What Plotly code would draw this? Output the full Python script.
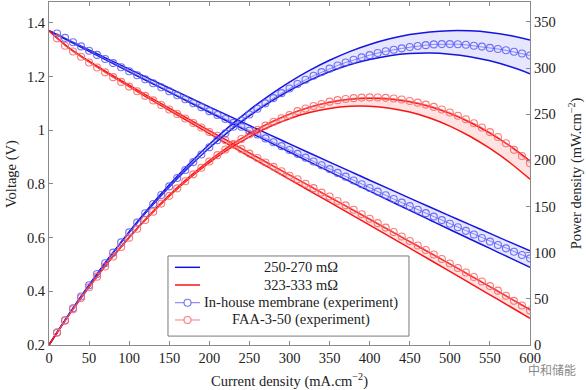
import plotly.graph_objects as go

# ---------------- data ----------------
J_MODEL = [0, 25, 50, 75, 100, 125, 150, 175, 200, 225, 250, 275, 300,
           325, 350, 375, 400, 425, 450, 475, 500, 525, 550, 575, 600]

V_250 = [1.371, 1.3350, 1.2992, 1.2635, 1.2279, 1.1926, 1.1574, 1.1223, 1.0874,
         1.0527, 1.0181, 0.9837, 0.9495, 0.9154, 0.8814, 0.8477, 0.8140, 0.7806,
         0.7473, 0.7141, 0.6811, 0.6483, 0.6157, 0.5831, 0.5508]
V_270 = [1.371, 1.3325, 1.2941, 1.2559, 1.2177, 1.1799, 1.1421, 1.1045, 1.0671,
         1.0298, 0.9927, 0.9557, 0.9190, 0.8823, 0.8458, 0.8096, 0.7733, 0.7374,
         0.7015, 0.6658, 0.6302, 0.5949, 0.5598, 0.5246, 0.4898]
V_323 = [1.371, 1.3071, 1.2576, 1.2119, 1.1678, 1.1248, 1.0824, 1.0406, 0.9989,
         0.9575, 0.9161, 0.8750, 0.8338, 0.7926, 0.7513, 0.7101, 0.6686, 0.6271,
         0.5855, 0.5438, 0.5019, 0.4597, 0.4174, 0.3750, 0.3323]
V_333 = [1.371, 1.3057, 1.2548, 1.2078, 1.1623, 1.1179, 1.0741, 1.0310, 0.9879,
         0.9451, 0.9023, 0.8599, 0.8173, 0.7747, 0.7320, 0.6895, 0.6466, 0.6037,
         0.5607, 0.5177, 0.4744, 0.4308, 0.3871, 0.3434, 0.2993]

J_EXP = [10, 20, 30, 40, 50, 60, 70, 80, 90, 100, 110, 120, 130, 140, 150,
         160, 170, 180, 190, 200, 210, 220, 230, 240, 250, 260, 270, 280, 290, 300,
         310, 320, 330, 340, 350, 360, 370, 380, 390, 400, 410, 420, 430, 440, 450,
         460, 470, 480, 490, 500, 510, 520, 530, 540, 550, 560, 570, 580, 590, 600]

V_INHOUSE = [1.3606, 1.3442, 1.3278, 1.3125, 1.2962, 1.2809, 1.2656, 1.2504, 1.2351, 1.2200,
             1.2050, 1.1900, 1.1751, 1.1602, 1.1454, 1.1305, 1.1157, 1.1009, 1.0862, 1.0714,
             1.0568, 1.0422, 1.0277, 1.0132, 0.9986, 0.9842, 0.9697, 0.9553, 0.9409, 0.9265,
             0.9122, 0.8980, 0.8838, 0.8696, 0.8554, 0.8413, 0.8272, 0.8131, 0.7991, 0.7850,
             0.7714, 0.7578, 0.7439, 0.7304, 0.7173, 0.7042, 0.6912, 0.6785, 0.6653, 0.6520,
             0.6390, 0.6254, 0.6118, 0.5987, 0.5852, 0.5726, 0.5601, 0.5477, 0.5352, 0.5228]

V_FAA = [1.3426, 1.3150, 1.2938, 1.2738, 1.2526, 1.2340, 1.2158, 1.1980, 1.1803, 1.1628,
         1.1455, 1.1284, 1.1113, 1.0944, 1.0774, 1.0606, 1.0439, 1.0272, 1.0106, 0.9939,
         0.9794, 0.9628, 0.9462, 0.9297, 0.9131, 0.8967, 0.8802, 0.8638, 0.8473, 0.8308,
         0.8173, 0.8009, 0.7844, 0.7679, 0.7533, 0.7368, 0.7203, 0.7037, 0.6872, 0.6706,
         0.6540, 0.6375, 0.6209, 0.6043, 0.5875, 0.5708, 0.5541, 0.5374, 0.5207, 0.5039,
         0.4871, 0.4702, 0.4534, 0.4365, 0.4194, 0.4025, 0.3835, 0.3645, 0.3470, 0.3283]

LEGEND_LABELS = ["250-270 mΩ", "323-333 mΩ",
                 "In-house membrane (experiment)", "FAA-3-50 (experiment)"]

# power density (mW/cm2) = current density (mA/cm2) x voltage (V)
def power(j, v):
    return [a * b for a, b in zip(j, v)]

P_250 = power(J_MODEL, V_250)
P_270 = power(J_MODEL, V_270)
P_323 = power(J_MODEL, V_323)
P_333 = power(J_MODEL, V_333)
P_INHOUSE = power(J_EXP, V_INHOUSE)
P_FAA = power(J_EXP, V_FAA)

# ---------------- styles ----------------
BLUE = "rgb(20,20,225)"
RED = "rgb(250,20,20)"
BLUE_FILL = "rgba(60,60,255,0.13)"
RED_FILL = "rgba(255,60,60,0.15)"
BLUE_MK = "rgba(90,90,245,0.85)"
RED_MK = "rgba(250,100,100,0.85)"
FONT = "Liberation Serif, Times New Roman, DejaVu Serif, serif"
TXT = "#222"

fig = go.Figure()

def band(x, lo, hi, color, fill, yaxis):
    fig.add_trace(go.Scatter(x=x, y=lo, mode="lines", yaxis=yaxis,
                             line=dict(color=color, width=1.5, shape="spline"),
                             showlegend=False, hoverinfo="skip"))
    fig.add_trace(go.Scatter(x=x, y=hi, mode="lines", yaxis=yaxis, fill="tonexty",
                             fillcolor=fill,
                             line=dict(color=color, width=1.5, shape="spline"),
                             showlegend=False, hoverinfo="skip"))

band(J_MODEL, V_270, V_250, BLUE, BLUE_FILL, "y")
band(J_MODEL, V_333, V_323, RED, RED_FILL, "y")
band(J_MODEL, P_270, P_250, BLUE, BLUE_FILL, "y2")
band(J_MODEL, P_333, P_323, RED, RED_FILL, "y2")

def exp(x, y, color, yaxis):
    fig.add_trace(go.Scatter(x=x, y=y, mode="lines+markers", yaxis=yaxis,
                             line=dict(color=color, width=0.8),
                             marker=dict(symbol="circle-open", size=7,
                                         color=color, line=dict(width=1.1)),
                             showlegend=False))

exp(J_EXP, V_INHOUSE, BLUE_MK, "y")
exp(J_EXP, V_FAA, RED_MK, "y")
exp(J_EXP, P_INHOUSE, BLUE_MK, "y2")
exp(J_EXP, P_FAA, RED_MK, "y2")

# ---------------- manual legend (centered text like the reference) ----------------
shapes = [dict(type="rect", xref="paper", yref="paper", x0=0.2474, x1=0.7484,
               y0=0.026, y1=0.2595, line=dict(color="#7a7a7a", width=1),
               fillcolor="white", layer="above")]
rows = [0.2265, 0.1749, 0.1233, 0.0729]
colors = [BLUE, RED, BLUE_MK, RED_MK]
annotations = []
for i, (yy, c, lab) in enumerate(zip(rows, colors, LEGEND_LABELS)):
    shapes.append(dict(type="line", xref="paper", yref="paper", x0=0.262, x1=0.314,
                       y0=yy, y1=yy, line=dict(color=c, width=1.5 if i < 2 else 1),
                       layer="above"))
    if i >= 2:
        shapes.append(dict(type="circle", xref="paper", yref="paper",
                           x0=0.288 - 0.0073, x1=0.288 + 0.0073,
                           y0=yy - 0.0102, y1=yy + 0.0102,
                           line=dict(color=c, width=1.1), fillcolor="white",
                           layer="above"))
    annotations.append(dict(xref="paper", yref="paper", x=0.524, y=yy, text=lab,
                            showarrow=False, xanchor="center", yanchor="middle",
                            font=dict(family=FONT, size=14.5, color=TXT)))

# axis titles placed explicitly
annotations.append(dict(xref="paper", yref="paper", x=0.5, y=-0.103,
                        text="Current density (mA.cm<sup>−2</sup>)", showarrow=False,
                        xanchor="center", yanchor="middle",
                        font=dict(family=FONT, size=14.5, color=TXT)))
annotations.append(dict(xref="paper", yref="paper", x=-0.078, y=0.5,
                        text="Voltage (V)", showarrow=False, textangle=-90,
                        xanchor="center", yanchor="middle",
                        font=dict(family=FONT, size=14.5, color=TXT)))
annotations.append(dict(xref="paper", yref="paper", x=1.095, y=0.5,
                        text="Power density (mW.cm<sup>−2</sup>)", showarrow=False,
                        textangle=-90, xanchor="center", yanchor="middle",
                        font=dict(family=FONT, size=14.5, color=TXT)))

# watermark
annotations.append(dict(xref="paper", yref="paper", x=1.045, y=-0.072, text="中和储能",
                        showarrow=False, xanchor="center", yanchor="middle",
                        font=dict(family="Noto Sans CJK SC", size=12, color="#888")))

AX = dict(showline=True, linecolor="#8a8a8a", linewidth=1, ticks="inside",
          ticklen=4, tickcolor="#8a8a8a", showgrid=False, zeroline=False,
          automargin=False,
          tickfont=dict(family=FONT, size=14.5, color=TXT))

fig.update_layout(
    width=586, height=390,
    margin=dict(l=49, r=56, t=2, b=45),
    paper_bgcolor="white", plot_bgcolor="white",
    showlegend=False,
    xaxis=dict(**AX, range=[0, 600], dtick=50, tick0=0, mirror="ticks"),
    yaxis=dict(**AX, range=[0.2, 1.478], dtick=0.2, tick0=0.2),
    yaxis2=dict(**AX, range=[0, 371.6], dtick=50, tick0=0, overlaying="y",
                side="right"),
    shapes=shapes,
    annotations=annotations,
)

fig.write_html("out.html",
               config={"displayModeBar": False},
               post_script="document.body.style.margin='0px';"
                           "document.body.style.padding='0px';")
